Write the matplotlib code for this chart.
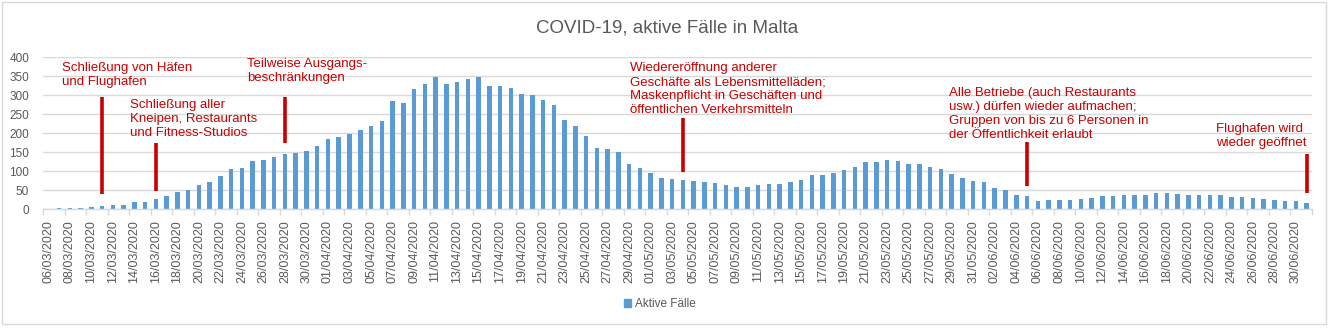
import matplotlib
matplotlib.use("Agg")
import matplotlib.pyplot as plt
import matplotlib.patches as mpatches
import numpy as np
import pandas as pd

# Active COVID-19 cases in Malta, one value per day
cases_mar = [0, 2, 3, 3, 5, 7, 11, 11, 18, 19, 26, 34, 45, 50, 62, 70, 87, 106,
             107, 126, 129, 136, 145, 147, 152, 165]                      # 06/03 - 31/03
cases_apr = [184, 190, 198, 209, 219, 233, 285, 280, 317, 329, 348, 329, 335, 342,
             348, 325, 325, 320, 304, 300, 288, 274, 234, 219, 192, 160, 158, 150,
             118, 108]                                                     # 01/04 - 30/04
cases_may = [94, 83, 78, 76, 73, 70, 68, 64, 58, 58, 63, 65, 65, 70, 77, 89, 90, 94,
             102, 112, 123, 123, 128, 126, 118, 118, 112, 106, 91, 83, 73]  # 01/05 - 31/05
cases_jun = [70, 55, 49, 36, 33, 20, 23, 23, 23, 27, 29, 34, 34, 36, 36, 38, 42, 42,
             40, 38, 38, 38, 36, 32, 32, 29, 26, 25, 21, 21]               # 01/06 - 30/06
cases_jul = [16]                                                           # 01/07

start_date = "2020-03-06"
end_date = "2020-07-01"

# Measures taken (date, description)
event_dates = ["2020-03-11", "2020-03-16", "2020-03-28", "2020-05-04", "2020-06-05", "2020-07-01"]
event_texts = [
    "Schließung von Häfen\nund Flughafen",
    "Schließung aller\nKneipen, Restaurants\nund Fitness-Studios",
    "Teilweise Ausgangs-\nbeschränkungen",
    "Wiedereröffnung anderer\nGeschäfte als Lebensmittelläden;\nMaskenpflicht in Geschäften und\nöffentlichen Verkehrsmitteln",
    "Alle Betriebe (auch Restaurants\nusw.) dürfen wieder aufmachen;\nGruppen von bis zu 6 Personen in\nder Öffentlichkeit erlaubt",
    "Flughafen wird\nwieder geöffnet",
]

title = "COVID-19, aktive Fälle in Malta"
series_name = "Aktive Fälle"
y_ticks = [0, 50, 100, 150, 200, 250, 300, 350, 400]

# ---------------------------------------------------------------------------
values = np.array(cases_mar + cases_apr + cases_may + cases_jun + cases_jul)
dates = pd.date_range(start_date, end_date, freq="D")
labels = [d.strftime("%d/%m/%Y") for d in dates]
x = np.arange(len(values))

BAR = "#5B9BD5"
GREY = "#595959"
RED = "#C80000"
GRID = "#D9D9D9"

plt.rcParams["font.family"] = ["Liberation Sans", "DejaVu Sans"]

W, H = 1334, 329
fig = plt.figure(figsize=(W / 100, H / 100), dpi=100)
fig.patch.set_facecolor("white")

# plot area in pixels: left 43, right 1312, baseline 209, top (400) 57
ax = fig.add_axes([43 / W, 1 - 209 / H, (1312 - 43) / W, (209 - 57.3) / H])

ax.bar(x, values, width=0.42, color=BAR, zorder=3, label=series_name)

ax.set_xlim(-0.5, len(values) - 0.5)
ax.set_ylim(0, 400)
ax.set_yticks(y_ticks)
ax.yaxis.grid(True, color=GRID, linewidth=1.0, zorder=0)
ax.set_axisbelow(True)

for side in ("left", "right", "top"):
    ax.spines[side].set_visible(False)
ax.spines["bottom"].set_color(GRID)
ax.spines["bottom"].set_linewidth(1.0)
ax.spines["bottom"].set_zorder(4)

ax.tick_params(axis="y", length=0, pad=10, labelsize=8.5, labelcolor=GREY)

# labels every second day, tick marks between the labelled pairs
ax.set_xticks(x[::2])
ax.set_xticklabels(labels[::2], rotation=90, fontsize=9, color=GREY)
ax.tick_params(axis="x", which="major", length=0, pad=8)
ax.set_xticks(np.arange(-0.5, len(values), 2), minor=True)
ax.tick_params(axis="x", which="minor", length=4, color=GRID, width=1.0)

# event markers and descriptions
date_index = {d.strftime("%Y-%m-%d"): i for i, d in enumerate(dates)}
line_spans = [(39, 296), (47, 174), (174, 296), (97, 240), (60, 176), (41, 145)]
text_pos = [(1.27, 387), (7.59, 289), (18.47, 397), (54.08, 387), (83.75, 321), (108.58, 226)]
for d, txt, (y0, y1), (tx, ty) in zip(event_dates, event_texts, line_spans, text_pos):
    xi = date_index[d]
    ax.plot([xi, xi], [y0, y1], color=RED, linewidth=2.6, solid_capstyle="butt",
            zorder=5, clip_on=False)
    ax.text(tx, ty, txt, color=RED, fontsize=9.5, ha="left", va="top",
            linespacing=1.22, zorder=6, clip_on=False)

fig.text(0.5, 1 - 28 / H, title, ha="center", va="center", fontsize=13.5, color=GREY)

handles = [mpatches.Patch(color=BAR, label=series_name)]
fig.legend(handles=handles, loc="center", bbox_to_anchor=(660 / W, 1 - 304 / H),
           frameon=False, fontsize=8.5, handlelength=0.6, handleheight=0.6,
           handletextpad=0.3, labelcolor=GREY)

# outer chart border
fig.patches.append(mpatches.Rectangle((2 / W, 1 - 324 / H), 1324 / W, 322 / H,
                                      transform=fig.transFigure, fill=False,
                                      edgecolor=GRID, linewidth=1.0))

fig.savefig("out.png", dpi=100, facecolor="white")
